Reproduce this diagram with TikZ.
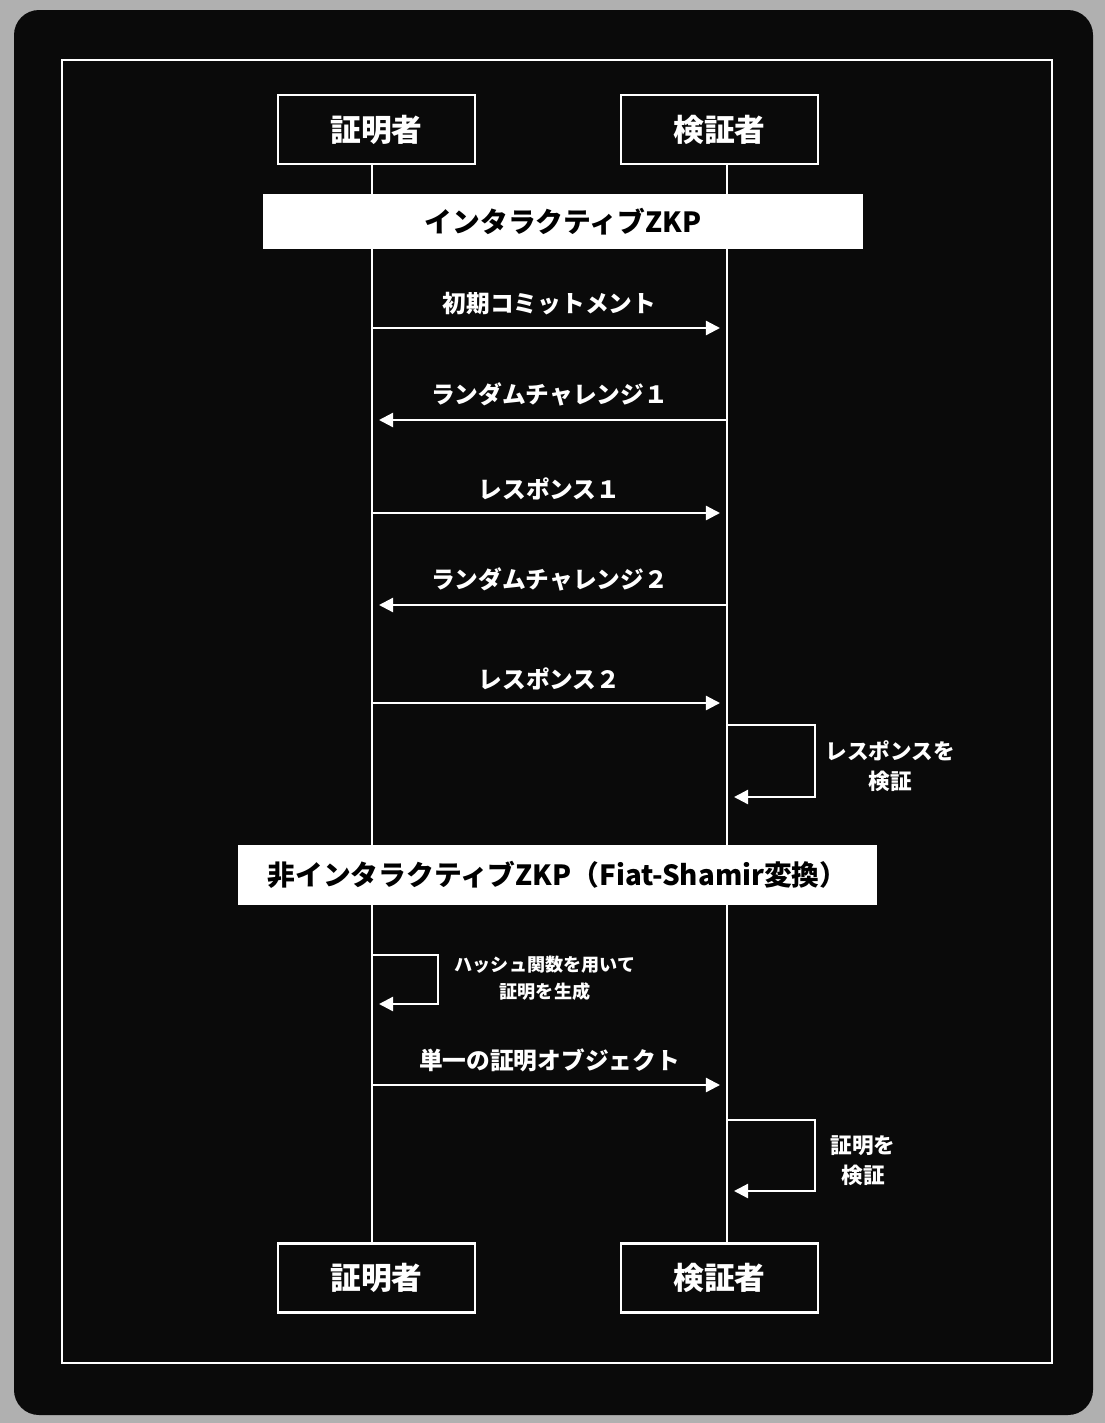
\documentclass[tikz,border=0pt]{standalone}
\usepackage{fontspec}
\setmainfont{Noto Sans CJK JP}
\usetikzlibrary{arrows.meta}
\definecolor{bgray}{RGB}{176,176,176}
\definecolor{nblack}{RGB}{10,10,10}

\begin{document}
\begin{tikzpicture}[x=0.02cm,y=-0.02cm]
\tikzset{actor/.style={draw=white,line width=1.3pt,minimum width=3.94cm,minimum height=1.38cm,text=white,font=\fontsize{17.5}{20}\selectfont\bfseries,inner sep=0pt},
  banner/.style={fill=white,draw=none,text=black,font=\fontsize{15.8}{18}\selectfont\bfseries,inner sep=0pt},
  life/.style={white,line width=1.3pt},
  msg/.style={white,line width=1.3pt,-{Triangle[width=8pt,length=8pt]},shorten >=0.14cm},
  lbl/.style={text=white,font=\fontsize{13.5}{16}\selectfont\bfseries,inner sep=0pt},
  note/.style={text=white,font=\fontsize{12.3}{17}\selectfont\bfseries,align=center,inner sep=0pt}}
\useasboundingbox[fill=bgray] (0,0) rectangle (1105,1423);
\fill[nblack,rounded corners=0.5cm] (14,10) rectangle (1093,1415);
\draw[white,line width=1.3pt] (62,60) rectangle (1052,1363);

% lifelines
\coordinate (pt) at (372,164);
\coordinate (pb) at (372,1244);
\coordinate (vt) at (727,164);
\coordinate (vb) at (727,1244);
\draw[life] (pt) -- (pb);
\draw[life] (vt) -- (vb);

\node (p1) at (376.5,129.5) [actor] {証明者};
\node (v1) at (719.5,129.5) [actor] {検証者};
\node (p2) at (376.5,1278) [actor] {証明者};
\node (v2) at (719.5,1278) [actor] {検証者};

\node (z1) at (563,221.5) [banner,minimum width=12cm,minimum height=1.1cm] {インタラクティブZKP};
\node (z2) at (557.5,875) [banner,minimum width=12.78cm,minimum height=1.2cm] {非インタラクティブZKP（Fiat-Shamir変換）};

% messages
\coordinate (a1) at (372,328); \coordinate (b1) at (727,328);
\coordinate (a2) at (372,420); \coordinate (b2) at (727,420);
\coordinate (a3) at (372,513); \coordinate (b3) at (727,513);
\coordinate (a4) at (372,605); \coordinate (b4) at (727,605);
\coordinate (a5) at (372,703); \coordinate (b5) at (727,703);
\coordinate (a6) at (372,1085); \coordinate (b6) at (727,1085);

\path
(a1) edge [msg] node[lbl,above=7pt] {初期コミットメント} (b1)
(b2) edge [msg] node[lbl,above=7pt] {ランダムチャレンジ１} (a2)
(a3) edge [msg] node[lbl,above=7pt] {レスポンス１} (b3)
(b4) edge [msg] node[lbl,above=7pt] {ランダムチャレンジ２} (a4)
(a5) edge [msg] node[lbl,above=7pt] {レスポンス２} (b5)
(a6) edge [msg] node[lbl,above=7pt] {単一の証明オブジェクト} (b6);

% self calls
\coordinate (s1) at (727,725); \coordinate (e1) at (727,797);
\coordinate (s2) at (372,955); \coordinate (e2) at (372,1004);
\coordinate (s3) at (727,1120); \coordinate (e3) at (727,1191);
\draw[msg] (s1) -- (815,725) -- (815,797) -- (e1);
\draw[msg] (s2) -- (438,955) -- (438,1004) -- (e2);
\draw[msg] (s3) -- (815,1120) -- (815,1191) -- (e3);
\node (n1) at (890,766) [note] {レスポンスを\\検証};
\node (n2) at (545,978) [note,font=\fontsize{10.3}{15.5}\selectfont\bfseries] {ハッシュ関数を用いて\\証明を生成};
\node (n3) at (863,1161) [note] {証明を\\検証};
\end{tikzpicture}
\end{document}
